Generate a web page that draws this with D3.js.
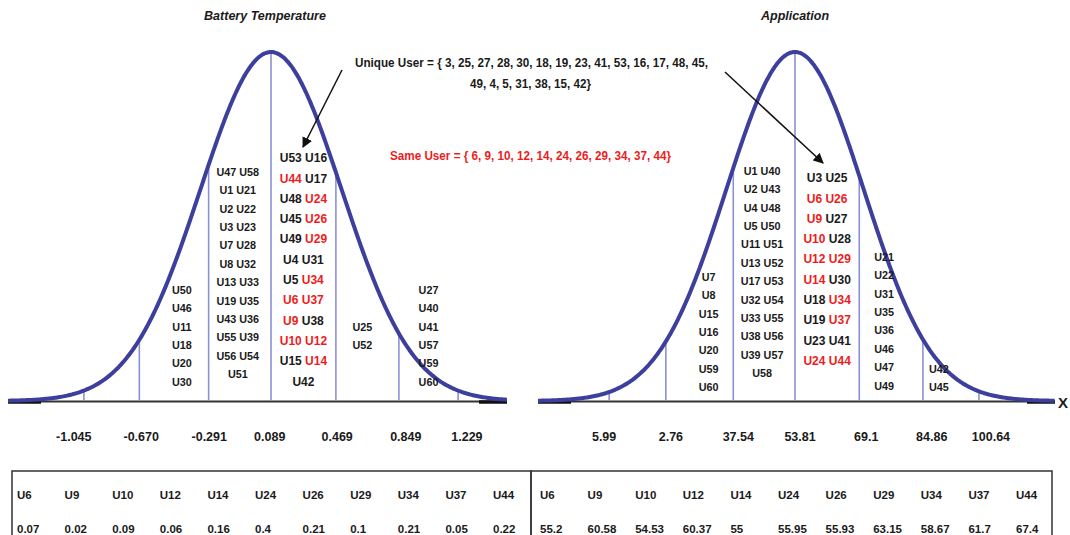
<!DOCTYPE html>
<html>
<head>
<meta charset="utf-8">
<script src="https://cdn.jsdelivr.net/npm/d3@7"></script>
<style>
  html, body { margin: 0; padding: 0; background: #fff; }
  svg { display: block; }
  text { font-family: "Liberation Sans", Arial, sans-serif; font-weight: bold; }
</style>
</head>
<body>
<svg id="chart" width="1070" height="535"></svg>
<script>
// ---------------- data ----------------
const sameUsers   = [6, 9, 10, 12, 14, 24, 26, 29, 34, 37, 44];
const uniqueUsers = [3, 25, 27, 28, 30, 18, 19, 23, 41, 53, 16, 17, 48, 45, 49, 4, 5, 31, 38, 15, 42];

const batteryTitle = "Battery Temperature";
const appTitle = "Application";

const batteryTicks = ["-1.045", "-0.670", "-0.291", "0.089", "0.469", "0.849", "1.229"];
const appTicks     = ["5.99", "2.76", "37.54", "53.81", "69.1", "84.86", "100.64"];

// band dividers, in standard-deviation units
const batteryEdges = [-2.97, -2.09, -0.99, 0, 1.03, 2.03, 2.97];
const appEdges     = [-2.95, -2.05, -0.98, 0, 1.02, 2.03, 2.92];

// users falling into each band (band index = between edges[i] and edges[i+1])
const batteryBands = [
  { band: 1, users: ["U50", "U46", "U11", "U18", "U20", "U30"] },
  { band: 2, users: ["U47 U58", "U1 U21", "U2 U22", "U3 U23", "U7 U28", "U8 U32", "U13 U33", "U19 U35", "U43 U36", "U55 U39", "U56 U54", "U51"] },
  { band: 3, users: ["U53 U16", "U44 U17", "U48 U24", "U45 U26", "U49 U29", "U4 U31", "U5 U34", "U6 U37", "U9 U38", "U10 U12", "U15 U14", "U42"] },
  { band: 4, users: ["U25", "U52"] },
  { band: 5, users: ["U27", "U40", "U41", "U57", "U59", "U60"] }
];
const appBands = [
  { band: 1, users: ["U7", "U8", "U15", "U16", "U20", "U59", "U60"] },
  { band: 2, users: ["U1 U40", "U2 U43", "U4 U48", "U5 U50", "U11 U51", "U13 U52", "U17 U53", "U32 U54", "U33 U55", "U38 U56", "U39 U57", "U58"] },
  { band: 3, users: ["U3 U25", "U6 U26", "U9 U27", "U10 U28", "U12 U29", "U14 U30", "U18 U34", "U19 U37", "U23 U41", "U24 U44"] },
  { band: 4, users: ["U21", "U22", "U31", "U35", "U36", "U46", "U47", "U49"] },
  { band: 5, users: ["U42", "U45"] }
];

const tableUsers    = ["U6", "U9", "U10", "U12", "U14", "U24", "U26", "U29", "U34", "U37", "U44"];
const batteryValues = [0.07, 0.02, 0.09, 0.06, 0.16, 0.4, 0.21, 0.1, 0.21, 0.05, 0.22];
const appValues     = [55.2, 60.58, 54.53, 60.37, 55, 55.95, 55.93, 63.15, 58.67, 61.7, 67.4];

// ---------------- layout ----------------
const svg = d3.select("#chart");
const BLUE = "#3d3f9c", LINE = "#8c90d4", RED = "#ee1c1c", INK = "#1a1a1a";
const baseY = 401, peakY = 52;

const panels = [
  { title: batteryTitle, ticks: batteryTicks, edges: batteryEdges, bands: batteryBands,
    center: 271, sdPx: 63, x0: 8, x1: 507, titleX: 265, curveSd: 1.12,
    tickPos: [-3.13, -2.06, -0.98, -0.02, 1.05, 2.14, 3.11],
    colTop: [290, 172, 158, 327, 290], colDx: [8, -2, 0, -5, 0] },
  { title: appTitle, ticks: appTicks, edges: appEdges, bands: appBands,
    center: 795, sdPx: 63, x0: 538, x1: 1055, titleX: 795, curveSd: 1.09,
    tickPos: [-3.03, -1.97, -0.9, 0.08, 1.13, 2.17, 3.11],
    colTop: [277, 171, 178, 257, 369], colDx: [9, -2, 0, -7, -12] }
];

const isSame = u => sameUsers.includes(+u.replace("U", ""));

panels.forEach((p, pi) => {
  const x = d3.scaleLinear()
    .domain([(p.x0 - p.center) / p.sdPx, (p.x1 - p.center) / p.sdPx])
    .range([p.x0, p.x1]);
  const y = d3.scaleLinear().domain([0, 1]).range([baseY, peakY]);
  const dens = s => Math.exp(-0.5 * (s / p.curveSd) * (s / p.curveSd));

  const g = svg.append("g");

  // axis line
  g.append("line").attr("x1", p.x0).attr("x2", p.x1).attr("y1", baseY + 0.5).attr("y2", baseY + 0.5)
    .attr("stroke", "#333").attr("stroke-width", 2);
  // darker end segments
  g.append("line").attr("x1", p.x0).attr("x2", p.x0 + 33).attr("y1", baseY + 1).attr("y2", baseY + 1)
    .attr("stroke", "#111").attr("stroke-width", 3.5);
  g.append("line").attr("x1", p.x1 - 28).attr("x2", p.x1).attr("y1", baseY + 1).attr("y2", baseY + 1)
    .attr("stroke", "#111").attr("stroke-width", 3.5);

  // band dividers
  g.selectAll("line.div").data(p.edges).join("line").attr("class", "div")
    .attr("x1", d => x(d)).attr("x2", d => x(d))
    .attr("y1", baseY).attr("y2", d => y(dens(d)))
    .attr("stroke", LINE).attr("stroke-width", 1.6);

  // bell curve
  const [d0, d1] = x.domain();
  const pts = d3.range(d0, d1 + 0.001, 0.02);
  g.append("path")
    .datum(pts)
    .attr("d", d3.line().x(d => x(d)).y(d => y(dens(d))).curve(d3.curveBasis))
    .attr("fill", "none").attr("stroke", BLUE).attr("stroke-width", 4);

  // title
  g.append("text").attr("x", p.titleX).attr("y", 19.5).attr("text-anchor", "middle")
    .attr("font-size", 12.5).attr("font-style", "italic")
    .attr("fill", INK).text(p.title);

  // tick labels
  g.selectAll("text.tick").data(p.ticks).join("text").attr("class", "tick")
    .attr("x", (d, i) => x(p.tickPos[i])).attr("y", 441)
    .attr("text-anchor", "middle").attr("font-size", 12.5).attr("fill", INK).text(d => d);

  // user labels per band
  p.bands.forEach((b, bi) => {
    const mid = (x(p.edges[b.band]) + x(p.edges[b.band + 1])) / 2 + p.colDx[bi];
    const big = b.band === 3;
    const step = big ? 20.3 : 18.4;
    const fs = big ? 12 : 10.8;
    const t = g.selectAll(null).data(b.users).join("text")
      .attr("x", mid).attr("y", (d, i) => p.colTop[bi] + i * step)
      .attr("dy", "0.35em").attr("text-anchor", "middle")
      .attr("font-size", fs).attr("fill", INK);
    t.each(function(d) {
      const el = d3.select(this);
      d.split(" ").forEach((u, k) => {
        el.append("tspan").text((k ? " " : "") + u).attr("fill", isSame(u) ? RED : INK);
      });
    });
  });
});

// X label
svg.append("text").attr("x", 1058).attr("y", 408).attr("font-size", 15).attr("font-weight", "normal")
  .attr("fill", INK).text("X");

// annotations
svg.append("defs").append("marker").attr("id", "arr").attr("viewBox", "0 0 10 10")
  .attr("refX", 9).attr("refY", 5).attr("markerWidth", 7).attr("markerHeight", 7)
  .attr("orient", "auto-start-reverse")
  .append("path").attr("d", "M0,0 L10,5 L0,10 z").attr("fill", "#111");

svg.append("line").attr("x1", 342).attr("y1", 70).attr("x2", 303).attr("y2", 147)
  .attr("stroke", "#111").attr("stroke-width", 1.5).attr("marker-end", "url(#arr)");
svg.append("line").attr("x1", 725).attr("y1", 72).attr("x2", 823).attr("y2", 163)
  .attr("stroke", "#111").attr("stroke-width", 1.5).attr("marker-end", "url(#arr)");

const uniq1 = uniqueUsers.slice(0, 14).join(", ") + ",";
const uniq2 = uniqueUsers.slice(14).join(", ") + "}";
svg.append("text").attr("x", 355).attr("y", 67).attr("font-size", 12).attr("fill", INK)
  .attr("textLength", 353).attr("lengthAdjust", "spacingAndGlyphs")
  .text("Unique User  = { " + uniq1);
svg.append("text").attr("x", 470).attr("y", 88).attr("font-size", 12).attr("fill", INK)
  .attr("textLength", 121).attr("lengthAdjust", "spacingAndGlyphs")
  .text(uniq2);
svg.append("text").attr("x", 390).attr("y", 160).attr("font-size", 12).attr("fill", RED)
  .attr("textLength", 281).attr("lengthAdjust", "spacingAndGlyphs")
  .text("Same User  = { " + sameUsers.join(", ") + "}");

// ---------------- table ----------------
const tables = [
  { x0: 12, x1: 531, first: 17, values: batteryValues },
  { x0: 531, x1: 1052, first: 540, values: appValues }
];
tables.forEach(tb => {
  const g = svg.append("g");
  g.append("rect").attr("x", tb.x0).attr("y", 471).attr("width", tb.x1 - tb.x0).attr("height", 80)
    .attr("fill", "none").attr("stroke", "#333").attr("stroke-width", 1.5);
  const cx = d3.scalePoint().domain(tableUsers).range([tb.first, tb.first + 10 * 47.6]);
  g.selectAll("text.h").data(tableUsers).join("text").attr("class", "h")
    .attr("x", d => cx(d)).attr("y", 499).attr("font-size", 11.5).attr("fill", INK).text(d => d);
  g.selectAll("text.v").data(tb.values).join("text").attr("class", "v")
    .attr("x", (d, i) => cx(tableUsers[i])).attr("y", 533).attr("font-size", 11.5).attr("fill", INK).text(d => d);
});
</script>
</body>
</html>
